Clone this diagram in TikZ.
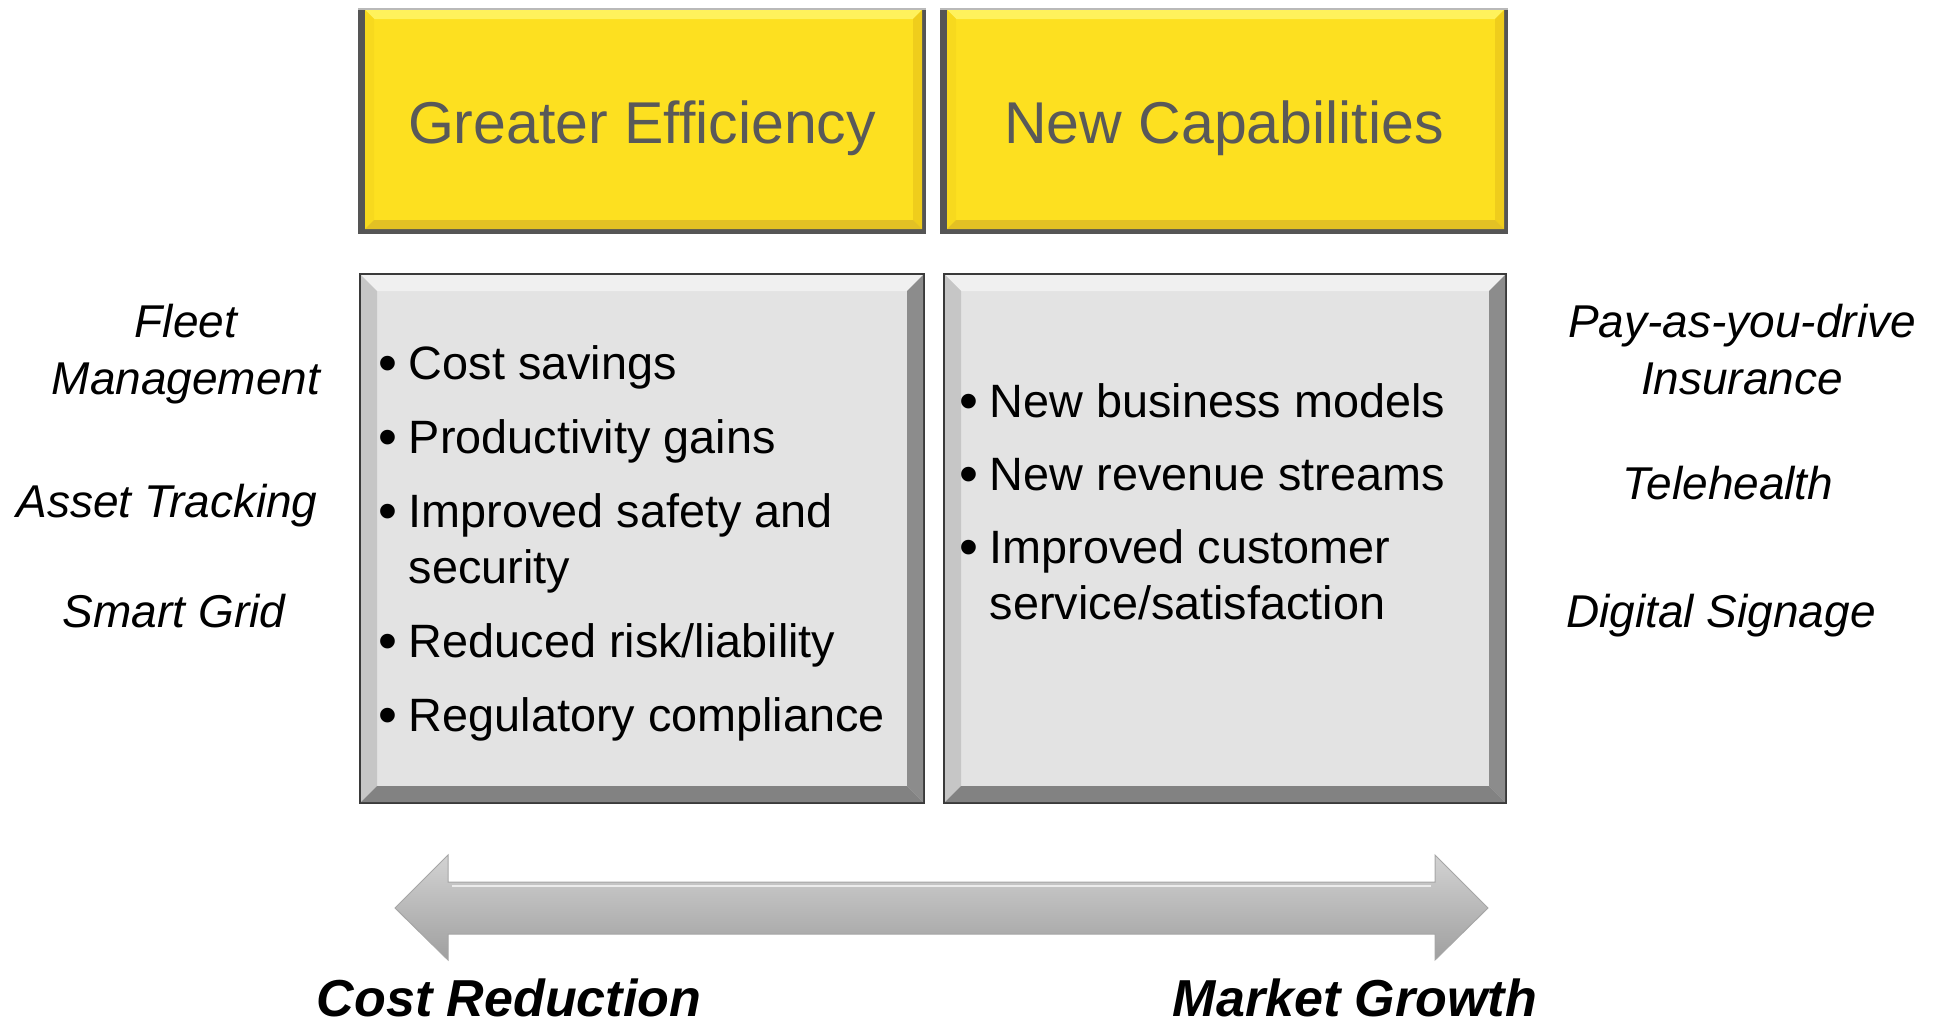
\documentclass[tikz,border=0pt]{standalone}
\usepackage{fontspec}
\setmainfont{Liberation Sans}
\usetikzlibrary{calc}
\definecolor{yface}{HTML}{FDE020}
\definecolor{ytop}{HTML}{FFF25C}
\definecolor{yleft}{HTML}{F7D91E}
\definecolor{yright}{HTML}{EFCD1C}
\definecolor{ybot}{HTML}{E3C124}
\definecolor{yedge}{HTML}{555555}
\definecolor{gface}{HTML}{E3E3E3}
\definecolor{gtop}{HTML}{F0F0F0}
\definecolor{gleft}{HTML}{C6C6C6}
\definecolor{gright}{HTML}{8C8C8C}
\definecolor{gbot}{HTML}{828282}
\definecolor{gedge}{HTML}{3A3A3A}
\definecolor{titlegray}{HTML}{595959}
\newcommand\bevface{yface}
\newcommand\bevelfill[9]{%
 \coordinate (iNW) at ([shift={(#1,-#2)}]path picture bounding box.north west);
 \coordinate (iNE) at ([shift={(-#3,-#2)}]path picture bounding box.north east);
 \coordinate (iSE) at ([shift={(-#3,#4)}]path picture bounding box.south east);
 \coordinate (iSW) at ([shift={(#1,#4)}]path picture bounding box.south west);
 \coordinate (jNW) at ([shift={(#5,-#5)}]iNW);
 \coordinate (jNE) at ([shift={(-#5,-#5)}]iNE);
 \coordinate (jSE) at ([shift={(-#5,#5)}]iSE);
 \coordinate (jSW) at ([shift={(#5,#5)}]iSW);
 \fill[\bevface] (iNW) rectangle (iSE);
 \fill[#6] (iNW) -- (iNE) -- (jNE) -- (jNW) -- cycle;
 \fill[#7] (iNW) -- (jNW) -- (jSW) -- (iSW) -- cycle;
 \fill[#8] (iNE) -- (iSE) -- (jSE) -- (jNE) -- cycle;
 \fill[#9] (iSW) -- (jSW) -- (jSE) -- (iSE) -- cycle;
}
\newcommand\bul{\makebox[15pt][l]{\raisebox{-1.1pt}{\fontsize{27}{28}\selectfont •}}}
\tikzset{
 ybox/.style={rectangle, inner sep=0pt, outer sep=0pt, minimum height=113pt, fill=yedge,
   path picture={\renewcommand\bevface{yface}%
     \bevelfill{3.5pt}{1pt}{2pt}{2.5pt}{4.5pt}{ytop}{yleft}{yright}{ybot}%
     \fill[gray!55] (path picture bounding box.north west) rectangle ([yshift=-1pt]path picture bounding box.north east);}},
 gbox/.style={rectangle, inner sep=0pt, outer sep=0pt, minimum height=265.5pt, fill=gedge,
   path picture={\renewcommand\bevface{gface}%
     \bevelfill{1pt}{1pt}{1pt}{1pt}{8pt}{gtop}{gleft}{gright}{gbot}}},
 titletext/.style={anchor=base, text=titlegray, inner sep=0pt, font=\fontsize{29.5}{34}\selectfont},
 bullettext/.style={anchor=base west, inner sep=0pt, font=\fontsize{23.4}{28}\selectfont},
 sidetext/.style={anchor=base, inner sep=0pt, font=\fontsize{23}{28.5}\selectfont\itshape},
 axistext/.style={anchor=base, inner sep=0pt, font=\fontsize{26}{30}\selectfont\bfseries\itshape},
}
\begin{document}
\begin{tikzpicture}[x=0.5pt, y=-0.5pt]
\useasboundingbox (0,0) rectangle (1940,1023);
% top yellow boxes
\node[ybox, minimum width=284pt] (effbox) at (642,121) {};
\node[ybox, minimum width=284pt] (capbox) at (1224,121) {};
\node[titletext] (efftitle) at (642,143) {Greater Efficiency};
\node[titletext] (captitle) at (1224,143) {New Capabilities};
% grey boxes
\node[gbox, minimum width=283pt] (effbody) at (642,538.5) {};
\node[gbox, minimum width=282pt] (capbody) at (1225,538.5) {};
\node[bullettext] (efflist) at (378.5,379) {%
\begin{tabular}[t]{@{}l@{}l@{}}
\bul & Cost savings\\[9pt]
\bul & Productivity gains\\[9pt]
\bul & Improved safety and\\
 & security\\[9pt]
\bul & Reduced risk/liability\\[9pt]
\bul & Regulatory compliance
\end{tabular}};
\node[bullettext] (caplist) at (959.5,417) {%
\begin{tabular}[t]{@{}l@{}l@{}}
\bul & New business models\\[8.5pt]
\bul & New revenue streams\\[8.5pt]
\bul & Improved customer\\
 & service/satisfaction
\end{tabular}};
% side labels
\node[sidetext] (fleet) at (186,337) {\begin{tabular}[t]{@{}c@{}}Fleet\\Management\end{tabular}};
\node[sidetext] (asset) at (167,517) {Asset Tracking};
\node[sidetext] (grid) at (174,627) {Smart Grid};
\node[sidetext] (payd) at (1742,337) {\begin{tabular}[t]{@{}c@{}}Pay-as-you-drive\\Insurance\end{tabular}};
\node[sidetext] (tele) at (1728,499) {Telehealth};
\node[sidetext] (sign) at (1721,627) {Digital Signage};
% double arrow
\path[shade, top color=gray!35, middle color=gray!58, bottom color=gray!75, draw=gray!70, line width=0.5pt]
 (395,908) -- (448,855) -- (448,882) -- (1435,882) -- (1435,855) -- (1488,908)
 -- (1435,960) -- (1435,934) -- (448,934) -- (448,960) -- cycle;
\draw[white!85!gray, line width=1pt] (452,886) -- (1431,886);
\node[axistext] (costred) at (509,1016) {Cost Reduction};
\node[axistext] (mktgrow) at (1355,1016) {Market Growth};
\end{tikzpicture}
\end{document}
